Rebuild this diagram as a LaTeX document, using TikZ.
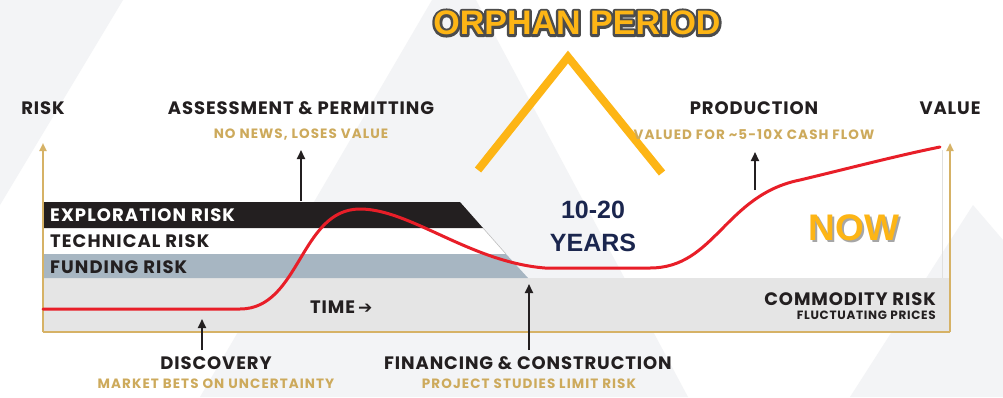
\documentclass[tikz,border=0pt]{standalone}
\usepackage{fontspec}
\setmainfont{Poppins}
\newfontfamily\arial{Liberation Sans}
\newfontfamily\djv{DejaVu Sans}
\usetikzlibrary{arrows.meta,calc}
\definecolor{bgg}{RGB}{243,244,246}
\definecolor{gband}{RGB}{229,229,229}
\definecolor{fund}{RGB}{167,182,194}
\definecolor{blk}{RGB}{35,31,32}
\definecolor{gld}{RGB}{214,178,102}
\definecolor{gtxt}{RGB}{205,170,92}
\definecolor{org}{RGB}{253,181,21}
\definecolor{navy}{RGB}{27,38,78}
\definecolor{outl}{RGB}{70,70,70}
\definecolor{redc}{RGB}{232,30,40}
\newcommand{\fs}[1]{\fontsize{#1}{#1}\selectfont}
\newcommand{\ls}[1]{\addfontfeature{LetterSpace=#1}}
\newcommand{\strokedtext}[1]{\special{pdf:literal direct q 1 Tr 5 w 1 j 0.30 0.30 0.30 RG}#1\special{pdf:literal direct Q}}
\tikzset{
  lbl/.style={inner sep=0pt, text=blk, font=\fs{18}\bfseries\ls{5}},
  sub/.style={inner sep=0pt, text=gtxt, font=\fs{13.5}\bfseries\ls{8}},
  band/.style={inner sep=0pt, anchor=west, font=\fs{18}\bfseries\ls{6}},
  axis/.style={gld, line width=2pt},
  axarrow/.style={gld, line width=2pt, -{Triangle[width=7pt,length=8pt]}},
  blkarrow/.style={blk, line width=2pt, -{Triangle[width=8pt,length=9pt]}},
  big/.style={inner sep=0pt, font=\arial\bfseries\fs{34}},
}
\begin{document}
\begin{tikzpicture}[x=1pt,y=-1pt]
\useasboundingbox (0,0) rectangle (1003,397);
\fill[white] (0,0) rectangle (1003,397);
% background decoration
\fill[bgg] (0,0) -- (123,0) -- (0,205) -- cycle;
\fill[bgg] (432,0) -- (476,0) -- (688,397) -- (200,397) -- cycle;
\fill[bgg] (973,205) -- (1003,240) -- (1003,397) -- (850,397) -- cycle;
% bands
\fill[gband] (43,278) rectangle (950,332);
\fill[white] (43,228) -- (483,228) -- (506,254) -- (43,254) -- cycle;
\fill[fund] (43,254) -- (506,254) -- (528,278) -- (43,278) -- cycle;
\fill[blk] (43,202) -- (460,202) -- (483,228) -- (43,228) -- cycle;
\draw[black!25, line width=0.6pt] (483,228) -- (506,254);
\draw[black!12, line width=0.8pt] (942,150) -- (942,278);
% frame
\coordinate (bl) at (43,332);
\coordinate (br) at (950,332);
\coordinate (tl) at (43,143);
\coordinate (tr) at (950,143);
\draw[axis] (bl) -- (br);
\draw[axarrow] (bl) -- (tl);
\draw[axarrow] (br) -- (tr);
% red curve
\draw[redc, line width=3pt, line cap=round]
  (43,309) -- (240,309)
  .. controls (300,309) and (300,209) .. (360,209)
  .. controls (410,209) and (470,262) .. (545,268)
  -- (650,268)
  .. controls (715,268) and (725,195) .. (800,180)
  .. controls (850,168) and (900,155) .. (940,147);
% black arrows
\coordinate (a1s) at (301,201); \coordinate (a1e) at (301,150);
\coordinate (a2s) at (755,190); \coordinate (a2e) at (755,152);
\coordinate (a3s) at (202,350); \coordinate (a3e) at (202,319);
\coordinate (a4s) at (529,350); \coordinate (a4e) at (529,284);
\draw[blkarrow] (a1s) -- (a1e);
\draw[blkarrow] (a2s) -- (a2e);
\draw[blkarrow] (a3s) -- (a3e);
\draw[blkarrow] (a4s) -- (a4e);
% chevron
\coordinate (cl) at (478,170);
\coordinate (ct) at (568,57);
\coordinate (cr) at (662,173);
\draw[org, line width=8pt, miter limit=10] (cl) -- (ct) -- (cr);
% texts
\node[lbl] (risk) at (43,108) {RISK};
\node[lbl] (assess) at (301,108) {ASSESSMENT \& PERMITTING};
\node[sub] (nonews) at (301,135) {NO NEWS, LOSES VALUE};
\node[lbl] (prod) at (754,108) {PRODUCTION};
\node[sub] (valued) at (754,135) {VALUED FOR \char`\~5-10X CASH FLOW};
\node[lbl] (value) at (950,108) {VALUE};
\node[band, text=white] (expl) at (50,215) {EXPLORATION RISK};
\node[band, text=blk] (tech) at (50,241) {TECHNICAL RISK};
\node[band, text=blk] (fundr) at (50,267) {FUNDING RISK};
\node[lbl, anchor=west] (time) at (310,307) {TIME\,{\djv\fs{17}➔}};
\node[lbl, anchor=east] (comm) at (936,299) {COMMODITY RISK};
\node[inner sep=0pt, anchor=east, text=blk, font=\fs{12}\bfseries\ls{6}] (fluct) at (936,315) {FLUCTUATING PRICES};
\node[lbl] (disc) at (216,363) {DISCOVERY};
\node[sub] (market) at (216,384) {MARKET BETS ON UNCERTAINTY};
\node[lbl] (fin) at (528,363) {FINANCING \& CONSTRUCTION};
\node[sub] (proj) at (529,384) {PROJECT STUDIES LIMIT RISK};
% orphan period with outline
\node[big, text=outl] (orphanol) at (577,23) {\strokedtext{ORPHAN PERIOD}};
\node[big, text=org] (orphan) at (577,23) {ORPHAN PERIOD};
\node[inner sep=0pt, font=\arial\bfseries\fs{25}, text=navy] (ten) at (593,210) {10-20};
\node[inner sep=0pt, font=\arial\bfseries\fs{25}, text=navy] (years) at (593,243) {YEARS};
\node[inner sep=0pt, font=\arial\bfseries\fs{37}, text=black!35] (nowsh) at (856,230) {NOW};
\node[inner sep=0pt, font=\arial\bfseries\fs{37}, text=org] (now) at (854,228) {NOW};
\end{tikzpicture}
\end{document}
